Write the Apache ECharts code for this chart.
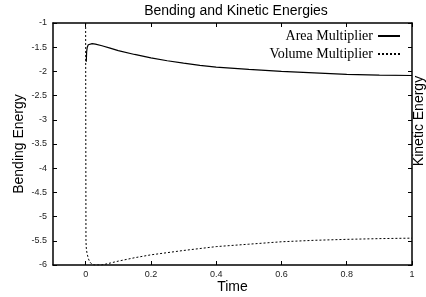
<!DOCTYPE html>
<html>
<head>
<meta charset="utf-8">
<script src="https://cdn.jsdelivr.net/npm/echarts@6/dist/echarts.min.js"></script>
<style>
    html, body { margin: 0; padding: 0; background: #fff; }
    #chart { width: 426px; height: 297px; }
</style>
</head>
<body>
<div id="chart"></div>
<script>
// values: [time, energy]
const areaMultiplier = [
    [0.002, -1.8], [0.003, -1.6], [0.005, -1.5], [0.008, -1.45], [0.012, -1.43],
    [0.02, -1.425], [0.03, -1.435], [0.05, -1.47], [0.075, -1.52], [0.1, -1.57],
    [0.15, -1.65], [0.2, -1.72], [0.25, -1.78], [0.3, -1.83], [0.35, -1.875],
    [0.4, -1.91], [0.5, -1.96], [0.6, -2.0], [0.7, -2.03], [0.8, -2.06],
    [0.9, -2.075], [1.0, -2.085]
];
const volumeMultiplier = [
    [0, -1], [0.001, -5.5], [0.002, -5.65], [0.004, -5.75], [0.008, -5.86],
    [0.012, -5.93], [0.018, -5.975], [0.025, -6.0], [0.05, -6.0], [0.075, -5.96],
    [0.1, -5.92], [0.15, -5.85], [0.2, -5.79], [0.25, -5.745], [0.3, -5.7],
    [0.4, -5.62], [0.5, -5.57], [0.6, -5.52], [0.7, -5.49], [0.8, -5.47],
    [0.9, -5.455], [1.0, -5.445]
];
const timeTicks = [0, 0.2, 0.4, 0.6, 0.8, 1];
const seriesNames = ['Area Multiplier', 'Volume Multiplier'];

const chart = echarts.init(document.getElementById('chart'));

const tickStyle = { show: true, inside: true, length: 4, lineStyle: { color: '#000' } };
const labelFont = { fontFamily: 'Liberation Sans', fontSize: 9, color: '#222' };
const nameFont = { fontFamily: 'Liberation Sans', fontSize: 14, color: '#000' };

chart.setOption({
    animation: false,
    title: {
        text: 'Bending and Kinetic Energies',
        left: 231, top: -1, textAlign: 'center',
        textStyle: { fontFamily: 'Liberation Sans', fontSize: 14, fontWeight: 'normal', color: '#000' }
    },
    legend: {
        orient: 'vertical',
        right: 20, top: 24,
        align: 'right',
        itemWidth: 22, itemHeight: 10, itemGap: 4,
        itemStyle: { opacity: 0 },
        textStyle: { fontFamily: 'Liberation Serif', fontSize: 14, color: '#000' },
        data: seriesNames
    },
    graphic: [{
        type: 'text', x: 419, y: 121, rotation: Math.PI / 2,
        style: Object.assign({ text: 'Kinetic Energy', align: 'center', verticalAlign: 'middle' }, nameFont)
    }],
    grid: { left: 53, right: 14, top: 23, bottom: 32, outerBoundsMode: 'none', containLabel: false },
    xAxis: [{
        type: 'value', min: -0.1, max: 1,
        name: 'Time', nameLocation: 'middle', nameGap: 15, nameMoveOverlap: false,
        nameTextStyle: nameFont,
        axisLine: { onZero: false, lineStyle: { color: '#000', width: 1.5 } },
        axisTick: Object.assign({ customValues: timeTicks }, tickStyle),
        axisLabel: Object.assign({ customValues: timeTicks, margin: 5 }, labelFont),
        splitLine: { show: false }
    }, {
        type: 'value', min: -0.1, max: 1, position: 'top',
        axisLine: { show: true, onZero: false, lineStyle: { color: '#000', width: 1.5 } },
        axisTick: Object.assign({ customValues: timeTicks }, tickStyle),
        axisLabel: { show: false },
        splitLine: { show: false }
    }],
    yAxis: [{
        type: 'value', min: -6, max: -1, interval: 0.5,
        name: 'Bending Energy', nameLocation: 'middle', nameGap: 27, nameMoveOverlap: false,
        nameTextStyle: nameFont,
        axisLine: { show: true, onZero: false, lineStyle: { color: '#000', width: 1.5 } },
        axisTick: tickStyle,
        axisLabel: Object.assign({ margin: 6 }, labelFont),
        splitLine: { show: false }
    }, {
        type: 'value', min: -6, max: -1, interval: 0.5, position: 'right',
        axisLine: { show: true, onZero: false, lineStyle: { color: '#000', width: 1.5 } },
        axisTick: tickStyle,
        axisLabel: { show: false },
        splitLine: { show: false }
    }],
    series: [{
        name: seriesNames[0], type: 'line', data: areaMultiplier,
        symbol: 'none', clip: true,
        lineStyle: { color: '#000', width: 1.2 },
        itemStyle: { color: '#000' }
    }, {
        name: seriesNames[1], type: 'line', data: volumeMultiplier,
        symbol: 'none', clip: true,
        lineStyle: { color: '#000', width: 1, type: [2, 2] },
        itemStyle: { color: '#000' }
    }]
});
</script>
</body>
</html>
